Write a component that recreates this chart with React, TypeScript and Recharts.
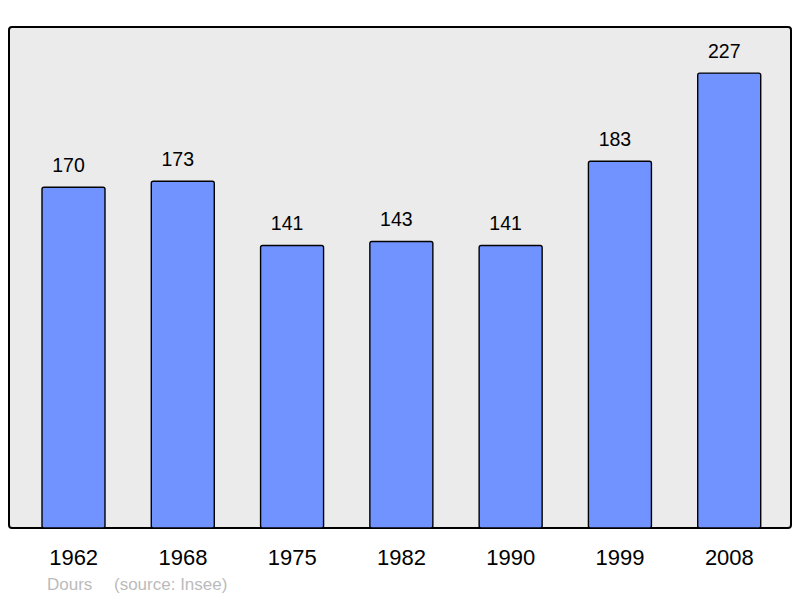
import React from 'react';
import { BarChart, Bar, XAxis, YAxis, LabelList } from 'recharts';

const years = ['1962', '1968', '1975', '1982', '1990', '1999', '2008'];
const population = [170, 173, 141, 143, 141, 183, 227];
const yDomain = [0, 250];

const data = years.map((y, i) => ({ year: y, value: population[i] }));

const FONT = '"Liberation Sans", Arial, sans-serif';

export default function App() {
  return (
    <div style={{ position: 'absolute', left: 0, top: 0, width: 800, height: 598, fontFamily: FONT }}>
      <div
        style={{
          position: 'absolute',
          left: 8,
          top: 26,
          width: 784,
          height: 503,
          boxSizing: 'border-box',
          border: '2px solid #000',
          borderRadius: 4,
          background: '#ebebeb',
        }}
      />
      <div style={{ position: 'absolute', left: 0, top: 0 }}>
        <BarChart
          width={800}
          height={598}
          data={data}
          margin={{ top: 27, right: 9, bottom: 40, left: 9 }}
        >
          <YAxis hide domain={yDomain} />
          <XAxis
            dataKey="year"
            height={30}
            axisLine={false}
            tickLine={false}
            tickSize={6}
            tickMargin={15}
            padding={{ left: 10, right: 7 }}
            tick={{ fontSize: 22, fill: '#000', fontFamily: FONT }}
          />
          <Bar
            dataKey="value"
            barSize={63}
            fill="#7093ff"
            stroke="#000"
            strokeWidth={1.4}
            radius={2}
            isAnimationActive={false}
          >
            <LabelList
              dataKey="value"
              position="top"
              offset={15}
              dx={-5}
              style={{ fontSize: 19.5, fill: '#000', fontFamily: FONT }}
            />
          </Bar>
        </BarChart>
      </div>
      <div
        style={{
          position: 'absolute',
          left: 47,
          top: 575,
          fontSize: 17,
          color: '#bbbbbb',
          whiteSpace: 'pre',
          lineHeight: '20px',
        }}
      >
        <span>Dours</span>
        <span style={{ position: 'absolute', left: 67 }}>(source: Insee)</span>
      </div>
    </div>
  );
}
